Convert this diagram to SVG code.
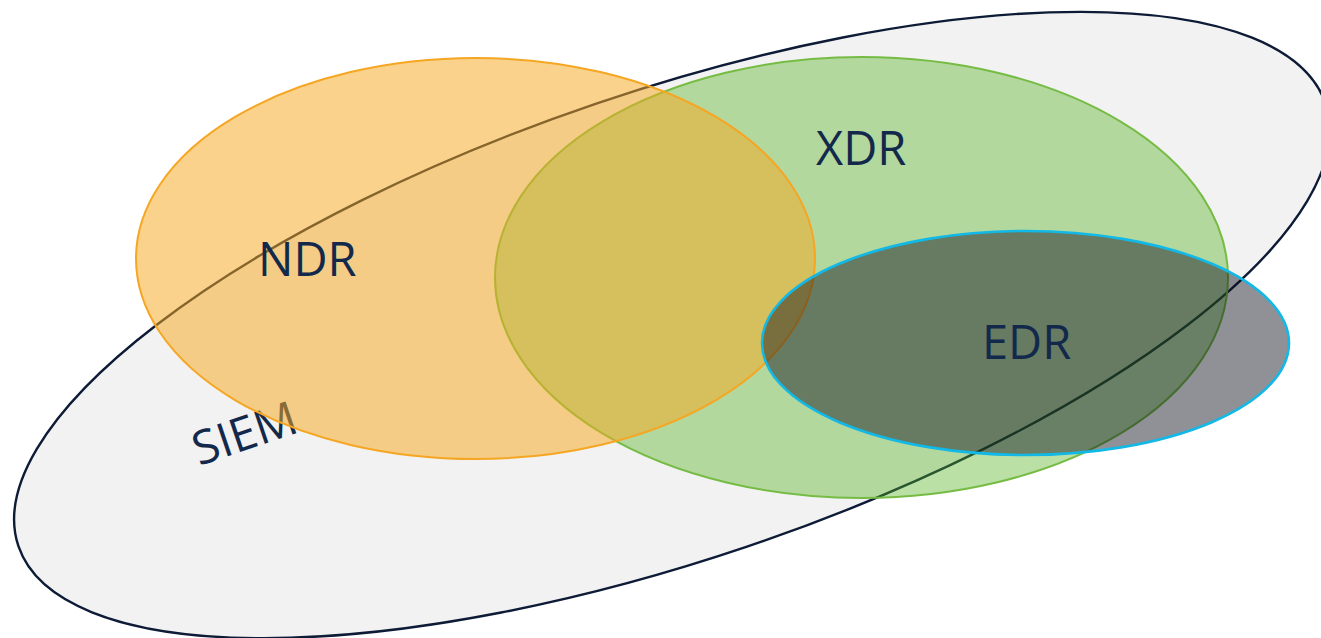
<svg xmlns="http://www.w3.org/2000/svg" width="1321" height="638" viewBox="0 0 1321 638">
<style>
.lbl{font-family:"Open Sans","Noto Sans","DejaVu Sans",sans-serif;font-size:47px;fill:#13294B;}
</style>
<rect width="1321" height="638" fill="#FFFFFF"/>
<g id="siem">
<ellipse cx="672" cy="325" rx="690" ry="234" transform="rotate(-18.7 672 325)" fill="#F2F2F2" stroke="#0D1B36" stroke-width="2.4"/>
<text class="lbl" x="199" y="466" transform="rotate(-18.7 199 466)">SIEM</text>
</g>
<g id="xdr">
<ellipse cx="861.5" cy="277.5" rx="366.5" ry="220.5" fill="#55B120" fill-opacity="0.4" stroke="#76BC44" stroke-width="2"/>
</g>
<g id="ndr">
<ellipse cx="475.5" cy="258.5" rx="339.5" ry="200.5" fill="#F5A822" fill-opacity="0.52" stroke="#F5A623" stroke-width="2"/>
</g>
<g id="edr">
<ellipse cx="1025.5" cy="343" rx="263.5" ry="112" fill="#080C18" fill-opacity="0.45" stroke="#12B8E6" stroke-width="2.6"/>
</g>
<g id="labels">
<text class="lbl" x="816" y="165">XDR</text>
<text class="lbl" x="258" y="276">NDR</text>
<text class="lbl" x="982" y="359">EDR</text>
</g>
<g id="connectors"/>
</svg>
